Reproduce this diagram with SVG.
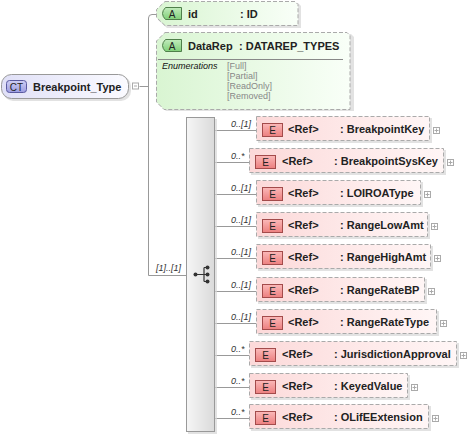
<svg xmlns="http://www.w3.org/2000/svg" width="469" height="438" viewBox="0 0 469 438">
<defs>
<linearGradient id="gEl" x1="0" y1="0" x2="1" y2="0"><stop offset="0" stop-color="#fcd9d9"/><stop offset="1" stop-color="#fff6f6"/></linearGradient>
<linearGradient id="gAt" x1="0" y1="0" x2="1" y2="0"><stop offset="0" stop-color="#d9f5d2"/><stop offset="1" stop-color="#f9fff8"/></linearGradient>
<linearGradient id="gCT" x1="0" y1="0" x2="1" y2="0"><stop offset="0" stop-color="#e0e0f7"/><stop offset="1" stop-color="#fbfbff"/></linearGradient>
<linearGradient id="gE" x1="0" y1="0" x2="0" y2="1"><stop offset="0" stop-color="#fbb9b9"/><stop offset="1" stop-color="#ec7f7f"/></linearGradient>
<linearGradient id="gA" x1="0" y1="0" x2="0" y2="1"><stop offset="0" stop-color="#c2ecbd"/><stop offset="1" stop-color="#7fcf78"/></linearGradient>
<linearGradient id="gCb" x1="0" y1="0" x2="0" y2="1"><stop offset="0" stop-color="#cfcff5"/><stop offset="1" stop-color="#9c9ce0"/></linearGradient>
<linearGradient id="gSeq" x1="0" y1="0" x2="1" y2="0"><stop offset="0" stop-color="#f6f6f6"/><stop offset="1" stop-color="#dadada"/></linearGradient>
<style>
.ln{stroke:#999;stroke-width:1;fill:none}
.sh{fill:#d6d6d6;opacity:0.7}
.el{fill:url(#gEl);stroke:#aaa;stroke-width:1;stroke-dasharray:4,2}
.at{fill:url(#gAt);stroke:#aaa;stroke-width:1;stroke-dasharray:4,2}
.eb{fill:url(#gE);stroke:#a34b4b;stroke-width:1}
.ab{fill:url(#gA);stroke:#4f7f4a;stroke-width:1}
.t{font-family:"Liberation Sans",Arial,sans-serif;font-size:11px;font-weight:bold;fill:#222}
.b{font-family:"Liberation Sans",Arial,sans-serif;font-size:10px;fill:#222;text-anchor:middle}
.c{font-family:"Liberation Sans",Arial,sans-serif;font-size:9px;font-style:italic;fill:#333}
.en{font-family:"Liberation Sans",Arial,sans-serif;font-size:9px;fill:#888}
.pl{fill:#fff;stroke:#aaa;stroke-width:1}
.pm{stroke:#aaa;stroke-width:1}
</style>
</defs>

<g id="connectors">
<path class="ln" d="M139.5,86.5 H148.5"/>
<path class="ln" d="M148.5,275.5 V18 Q148.5,14.5 152,14.5 H156"/>
<path class="ln" d="M148.5,275.5 H186"/>
<path class="ln" d="M215,130.5 H256"/>
<path class="ln" d="M215,162.5 H249"/>
<path class="ln" d="M215,194.5 H256"/>
<path class="ln" d="M215,226.5 H256"/>
<path class="ln" d="M215,258.5 H256"/>
<path class="ln" d="M215,291.5 H256"/>
<path class="ln" d="M215,323.5 H256"/>
<path class="ln" d="M215,355.5 H249"/>
<path class="ln" d="M215,387.5 H249"/>
<path class="ln" d="M215,418.5 H249"/>
<text class="c" x="156" y="271">[1]..[1]</text>
<text class="c" x="231" y="127">0..[1]</text>
<text class="c" x="231" y="159">0..*</text>
<text class="c" x="231" y="191">0..[1]</text>
<text class="c" x="231" y="223">0..[1]</text>
<text class="c" x="231" y="255">0..[1]</text>
<text class="c" x="231" y="288">0..[1]</text>
<text class="c" x="231" y="320">0..[1]</text>
<text class="c" x="231" y="352">0..*</text>
<text class="c" x="231" y="384">0..*</text>
<text class="c" x="231" y="415">0..*</text>
</g>

<g id="node-Breakpoint_Type">
<rect class="sh" x="3" y="76" width="128" height="25" rx="10"/>
<rect x="1.5" y="74.5" width="127" height="24" rx="10" fill="url(#gCT)" stroke="#999"/>
<rect x="6.5" y="80.5" width="20" height="12" rx="3" fill="url(#gCb)" stroke="#5a5aa0"/>
<text class="b" x="16.5" y="90.5">CT</text>
<text class="t" x="33" y="91">Breakpoint_Type</text>
<rect class="pl" x="132.5" y="83" width="6" height="6"/>
<path class="pm" d="M134,86 H137"/>
</g>

<g id="attr-id">
<path class="sh" d="M167,3 H298 L301,6 V28 H167 L158,20 V12 Z"/>
<path class="at" d="M165,1.5 H295 L298,4.5 V25.5 H165 L156.5,17.5 V9.5 Z"/>
<path class="ab" d="M165.5,7.5 H181.5 V19.5 H165.5 Q159.5,13.5 165.5,7.5 Z"/>
<text class="b" x="172" y="17.5">A</text>
<text class="t" x="188" y="18">id</text>
<text class="t" x="240" y="18">: ID</text>
</g>

<g id="attr-DataRep">
<path class="sh" d="M167,34 H351 L354,37 V111 H166 L158,103 V43 Z"/>
<path class="at" d="M165,32.5 H347 L350,35.5 V109.5 H164 L156.5,102 V41 Z"/>
<path class="ab" d="M165.5,39.5 H181.5 V51.5 H165.5 Q159.5,45.5 165.5,39.5 Z"/>
<text class="b" x="172" y="49.5">A</text>
<text class="t" x="188" y="50">DataRep</text>
<text class="t" x="239" y="50">: DATAREP_TYPES</text>
<path d="M158,59.5 H343" stroke="#888" stroke-width="1"/>
<text x="162" y="69" font-family="Liberation Sans, Arial, sans-serif" font-size="9" font-style="italic" fill="#111">Enumerations</text>
<text class="en" x="227" y="68.5">[Full]</text>
<text class="en" x="227" y="78.5">[Partial]</text>
<text class="en" x="227" y="88.5">[ReadOnly]</text>
<text class="en" x="227" y="98.5">[Removed]</text>
</g>

<g id="sequence">
<rect class="sh" x="188" y="119" width="29" height="315"/>
<rect x="186.5" y="117.5" width="28" height="314" fill="url(#gSeq)" stroke="#999"/>
<g stroke="#333" stroke-width="1.2" fill="#333">
<path d="M195,274.5 H204 M204,267.5 V281.5 M204,267.5 H207 M204,274.5 H207 M204,281.5 H207" fill="none"/>
<circle cx="195.5" cy="274.5" r="2" stroke="none"/>
<circle cx="207.5" cy="267.5" r="2" stroke="none"/>
<circle cx="207.5" cy="274.5" r="2" stroke="none"/>
<circle cx="207.5" cy="281.5" r="2" stroke="none"/>
</g>
</g>

<g id="el-BreakpointKey">
<rect class="sh" x="258" y="118" width="174" height="25"/>
<rect class="el" x="256.5" y="116.5" width="173" height="24"/>
<rect class="eb" x="262.5" y="123.5" width="20" height="13"/>
<text class="b" x="272.5" y="133.5">E</text>
<text class="t" x="288" y="133">&lt;Ref&gt;</text>
<text class="t" x="340" y="133">: BreakpointKey</text>
<rect class="pl" x="433.5" y="127.5" width="6" height="6"/><path class="pm" d="M434.5,130.5 H438.5 M436.5,128.5 V132.5"/>
</g>

<g id="el-BreakpointSysKey">
<rect class="sh" x="251" y="150" width="195" height="25"/>
<rect class="el" x="249.5" y="148.5" width="194" height="24"/>
<rect class="eb" x="255.5" y="155.5" width="20" height="13"/>
<text class="b" x="265.5" y="165.5">E</text>
<text class="t" x="282" y="165">&lt;Ref&gt;</text>
<text class="t" x="334" y="165">: BreakpointSysKey</text>
<rect class="pl" x="447.5" y="159.5" width="6" height="6"/><path class="pm" d="M448.5,162.5 H452.5 M450.5,160.5 V164.5"/>
</g>

<g id="el-LOIROAType">
<rect class="sh" x="258" y="182" width="165" height="25"/>
<rect class="el" x="256.5" y="180.5" width="164" height="24"/>
<rect class="eb" x="262.5" y="187.5" width="20" height="13"/>
<text class="b" x="272.5" y="197.5">E</text>
<text class="t" x="288" y="197">&lt;Ref&gt;</text>
<text class="t" x="340" y="197">: LOIROAType</text>
<rect class="pl" x="424.5" y="191.5" width="6" height="6"/><path class="pm" d="M425.5,194.5 H429.5 M427.5,192.5 V196.5"/>
</g>

<g id="el-RangeLowAmt">
<rect class="sh" x="258" y="214" width="172" height="25"/>
<rect class="el" x="256.5" y="212.5" width="171" height="24"/>
<rect class="eb" x="262.5" y="219.5" width="20" height="13"/>
<text class="b" x="272.5" y="229.5">E</text>
<text class="t" x="288" y="229">&lt;Ref&gt;</text>
<text class="t" x="340" y="229">: RangeLowAmt</text>
<rect class="pl" x="431.5" y="223.5" width="6" height="6"/><path class="pm" d="M432.5,226.5 H436.5 M434.5,224.5 V228.5"/>
</g>

<g id="el-RangeHighAmt">
<rect class="sh" x="258" y="246" width="175" height="25"/>
<rect class="el" x="256.5" y="244.5" width="174" height="24"/>
<rect class="eb" x="262.5" y="251.5" width="20" height="13"/>
<text class="b" x="272.5" y="261.5">E</text>
<text class="t" x="288" y="261">&lt;Ref&gt;</text>
<text class="t" x="340" y="261">: RangeHighAmt</text>
<rect class="pl" x="434.5" y="255.5" width="6" height="6"/><path class="pm" d="M435.5,258.5 H439.5 M437.5,256.5 V260.5"/>
</g>

<g id="el-RangeRateBP">
<rect class="sh" x="258" y="279" width="169" height="25"/>
<rect class="el" x="256.5" y="277.5" width="168" height="24"/>
<rect class="eb" x="262.5" y="284.5" width="20" height="13"/>
<text class="b" x="272.5" y="294.5">E</text>
<text class="t" x="288" y="294">&lt;Ref&gt;</text>
<text class="t" x="340" y="294">: RangeRateBP</text>
<rect class="pl" x="428.5" y="288.5" width="6" height="6"/><path class="pm" d="M429.5,291.5 H433.5 M431.5,289.5 V293.5"/>
</g>

<g id="el-RangeRateType">
<rect class="sh" x="258" y="311" width="181" height="25"/>
<rect class="el" x="256.5" y="309.5" width="180" height="24"/>
<rect class="eb" x="262.5" y="316.5" width="20" height="13"/>
<text class="b" x="272.5" y="326.5">E</text>
<text class="t" x="288" y="326">&lt;Ref&gt;</text>
<text class="t" x="340" y="326">: RangeRateType</text>
<rect class="pl" x="440.5" y="320.5" width="6" height="6"/><path class="pm" d="M441.5,323.5 H445.5 M443.5,321.5 V325.5"/>
</g>

<g id="el-JurisdictionApproval">
<rect class="sh" x="251" y="343" width="208" height="25"/>
<rect class="el" x="249.5" y="341.5" width="207" height="24"/>
<rect class="eb" x="255.5" y="348.5" width="20" height="13"/>
<text class="b" x="265.5" y="358.5">E</text>
<text class="t" x="282" y="358">&lt;Ref&gt;</text>
<text class="t" x="334" y="358">: JurisdictionApproval</text>
<rect class="pl" x="460.5" y="352.5" width="6" height="6"/><path class="pm" d="M461.5,355.5 H465.5 M463.5,353.5 V357.5"/>
</g>

<g id="el-KeyedValue">
<rect class="sh" x="251" y="375" width="159" height="25"/>
<rect class="el" x="249.5" y="373.5" width="158" height="24"/>
<rect class="eb" x="255.5" y="380.5" width="20" height="13"/>
<text class="b" x="265.5" y="390.5">E</text>
<text class="t" x="282" y="390">&lt;Ref&gt;</text>
<text class="t" x="334" y="390">: KeyedValue</text>
<rect class="pl" x="411.5" y="384.5" width="6" height="6"/><path class="pm" d="M412.5,387.5 H416.5 M414.5,385.5 V389.5"/>
</g>

<g id="el-OLifEExtension">
<rect class="sh" x="251" y="406" width="180" height="25"/>
<rect class="el" x="249.5" y="404.5" width="179" height="24"/>
<rect class="eb" x="255.5" y="411.5" width="20" height="13"/>
<text class="b" x="265.5" y="421.5">E</text>
<text class="t" x="282" y="421">&lt;Ref&gt;</text>
<text class="t" x="334" y="421">: OLifEExtension</text>
<rect class="pl" x="432.5" y="415.5" width="6" height="6"/><path class="pm" d="M433.5,418.5 H437.5 M435.5,416.5 V420.5"/>
</g>
</svg>
